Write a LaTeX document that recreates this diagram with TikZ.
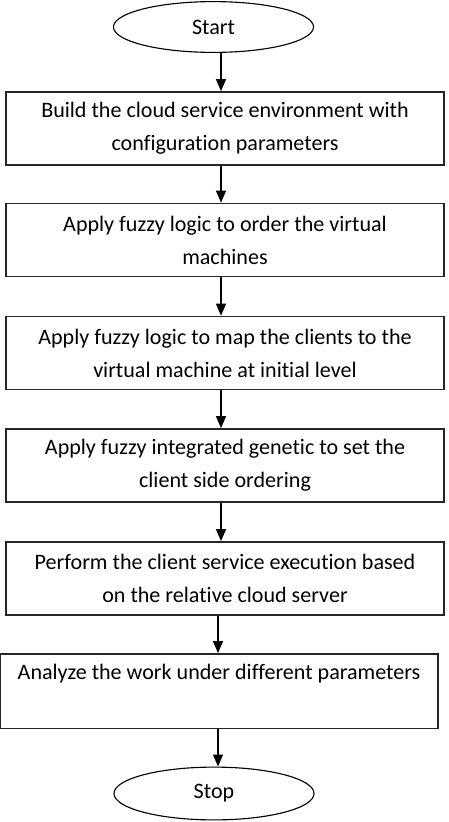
\documentclass[tikz,border=0pt]{standalone}
\usepackage{fontspec}
\setmainfont{Carlito}[Ligatures={NoCommon}]
\usepackage{tikz}
\usetikzlibrary{arrows.meta,shapes.geometric,positioning}
\tikzset{
  paso/.style={draw=black!85,line width=1pt,minimum width=10.95cm,minimum height=1.83cm,
    align=center,inner sep=0pt,font=\fontsize{15.7}{23.5}\selectfont},
  term/.style={ellipse,draw=black,line width=0.8pt,minimum width=5.0cm,minimum height=1.27cm,
    inner sep=0pt,font=\fontsize{15.7}{18}\selectfont},
  flecha/.style={-{Triangle[length=8.5pt,width=7pt]},line width=1.1pt}
}

\begin{document}
\begin{tikzpicture}[x=0.025cm,y=-0.025cm]
\useasboundingbox (0,0) rectangle (448,822);
% inicio y fin
\node[term] (inicio) at (213.5,27) {Start};
\node[term,minimum height=1.32cm] (fin) at (214,793.5) {Stop};
% pasos
\node[paso] (p1) at (225,128.5) {Build the cloud service environment with\\configuration parameters};
\node[paso] (p2) at (225,240) {Apply fuzzy logic to order the virtual\\machines};
\node[paso] (p3) at (225,353) {Apply fuzzy logic to map the clients to the\\virtual machine at initial level};
\node[paso] (p4) at (225,465.5) {Apply fuzzy integrated genetic to set the\\client side ordering};
\node[paso] (p5) at (225,578.5) {Perform the client service execution based\\on the relative cloud server};
\node[paso,minimum height=1.86cm] (p6) at (219,691) {Analyze the work under different parameters\\[-3.5pt] \strut};
% flechas
\coordinate (ax) at (221,0);
\coordinate (bx) at (218,0);
\draw[flecha] (inicio.south -| ax) -- (p1.north -| ax);
\draw[flecha] (p1.south -| ax) -- (p2.north -| ax);
\draw[flecha] (p2.south -| ax) -- (p3.north -| ax);
\draw[flecha] (p3.south -| ax) -- (p4.north -| ax);
\draw[flecha] (p4.south -| ax) -- (p5.north -| ax);
\draw[flecha] (p5.south -| bx) -- (p6.north -| bx);
\draw[flecha] (p6.south -| bx) -- (fin.north -| bx);
\end{tikzpicture}
\end{document}
